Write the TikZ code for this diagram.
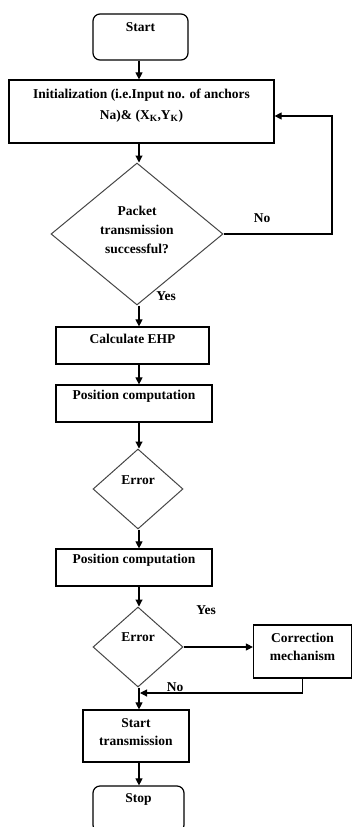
\documentclass[tikz,border=0pt]{standalone}
\usepackage{fontspec}
\setmainfont{Liberation Serif}
\usetikzlibrary{arrows.meta,shapes.geometric}
\definecolor{fcblack}{RGB}{0,0,0}
\definecolor{fcgray}{RGB}{70,70,70}
\tikzstyle{arrow} = [line width=1.1pt,-{Triangle[length=7pt,width=7pt]},color=fcblack]
\tikzstyle{terminal} = [rectangle, rounded corners=7pt, minimum height=46pt, inner sep=0pt, draw=fcblack, line width=1.2pt]
\tikzstyle{process} = [rectangle, inner sep=0pt, draw=fcblack, line width=1.2pt]
\tikzstyle{decision} = [diamond, inner sep=0pt, draw=fcgray, line width=1pt]
\tikzstyle{lbl} = [anchor=center, inner sep=0pt, align=center, font=\bfseries\fontsize{13.5}{18}\selectfont]

\begin{document}
\begin{tikzpicture}[x=1pt,y=-1pt]
\useasboundingbox (0,0) rectangle (353,827);
\coordinate (col) at (139,0);

\node[terminal, minimum width=95pt, label={[lbl,yshift=-14pt]north:Start}] (start) at (140.5,37) {};
\node[process, minimum width=265pt, minimum height=63pt, label={[lbl,yshift=-26pt]north:{Initialization (i.e.Input no. of anchors\\[3pt] Na)\& (X\textsubscript{K},Y\textsubscript{K})}}] (init) at (141.5,111.5) {};
\node[decision, minimum width=172pt, minimum height=142pt, label={[lbl,yshift=-67pt]north:{Packet\\[1pt] transmission\\[1pt] successful?}}] (pkt) at (137,234) {};
\node[process, minimum width=153pt, minimum height=37pt, label={[lbl,yshift=-12pt]north:Calculate EHP}] (ehp) at (132.5,345.5) {};
\node[process, minimum width=156pt, minimum height=37pt, label={[lbl,yshift=-12pt]north:Position computation}] (pos1) at (134,403.5) {};
\node[decision, minimum width=90pt, minimum height=80pt, label={[lbl,yshift=-32pt]north:Error}] (err1) at (138,489) {};
\node[process, minimum width=156pt, minimum height=37pt, label={[lbl,yshift=-12pt]north:Position computation}] (pos2) at (134,567.5) {};
\node[decision, minimum width=90pt, minimum height=80pt, label={[lbl,yshift=-31pt]north:Error}] (err2) at (138,647) {};
\node[process, minimum width=98pt, minimum height=53pt, label={[lbl,yshift=-22.5pt]north:{Correction\\ mechanism}}] (corr) at (302.5,651.5) {};
\node[process, minimum width=106pt, minimum height=52pt, label={[lbl,yshift=-22.5pt]north:{Start\\ transmission}}] (send) at (136,736) {};
\node[terminal, minimum width=91pt, label={[lbl,yshift=-14pt]north:Stop}] (stop) at (138.5,809) {};

\node[lbl] (no1) at (262,218) {No};
\node[lbl] (yes1) at (166,296) {Yes};
\node[lbl] (yes2) at (206,610) {Yes};
\node[lbl] (no2) at (175,687) {No};

\coordinate (fb) at (332,116);
\coordinate (merge) at (140,693);

\draw[arrow] (start.south -| col) -- (col |- init.north);
\draw[arrow] (init.south -| col) -- (col |- pkt.north);
\draw[arrow] (pkt.east) -| (fb) -- (fb -| init.east);
\draw[arrow] (pkt.south -| col) -- (col |- ehp.north);
\draw[arrow] (ehp.south -| col) -- (col |- pos1.north);
\draw[arrow] (pos1.south -| col) -- (col |- err1.north);
\draw[arrow] (err1.south -| col) -- (col |- pos2.north);
\draw[arrow] (pos2.south -| col) -- (col |- err2.north);
\draw[arrow] (err2.east) -- (err2.east -| corr.west);
\draw[arrow] (corr.south) |- (merge);
\draw[arrow] (err2.south -| col) -- (col |- send.north);
\draw[arrow] (send.south -| col) -- (col |- stop.north);
\end{tikzpicture}
\end{document}
